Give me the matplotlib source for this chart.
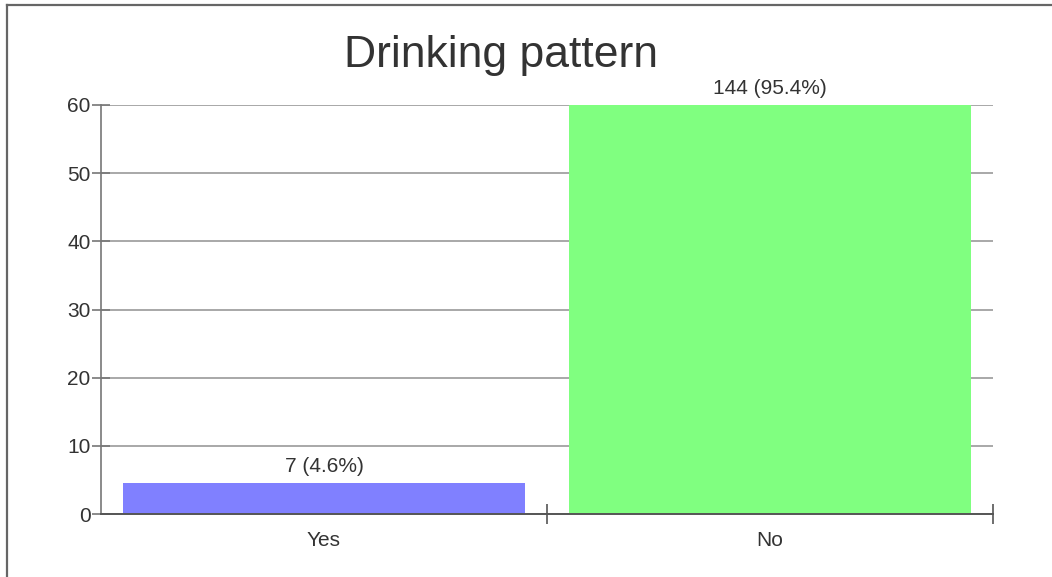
import matplotlib
matplotlib.use("Agg")
import matplotlib.pyplot as plt
from matplotlib.lines import Line2D

plt.rcParams['font.family'] = ['Liberation Sans', 'DejaVu Sans']

categories = ["Yes", "No"]
counts = [7, 144]
percents = [4.6, 95.4]
bar_colors = ["#8080ff", "#80ff80"]
y_ticks = [0, 10, 20, 30, 40, 50, 60]
y_max = 60

W, H = 1052, 577
fig = plt.figure(figsize=(W / 100, H / 100), dpi=100)

# plot area in pixel coordinates
left, right, top, bottom = 101, 993, 105, 514
ax = fig.add_axes([left / W, 1 - bottom / H, (right - left) / W, (bottom - top) / H])

ax.set_xlim(-0.5, len(categories) - 0.5)
ax.set_ylim(0, y_max)

x = list(range(len(categories)))
ax.bar(x, percents, width=0.9, color=bar_colors, zorder=3)

for xi, c, p in zip(x, counts, percents):
    ax.annotate(f"{c} ({p}%)", xy=(xi, min(p, y_max)), xytext=(0, 5),
                textcoords="offset points", ha="center", va="bottom",
                fontsize=15, color="#333333", annotation_clip=False)

# horizontal grid
ax.set_yticks(y_ticks)
for t in y_ticks:
    ax.axhline(t, color="#9a9a9a", lw=1.2, zorder=1)

ax.tick_params(axis="y", direction="inout", length=13, width=1.2,
               color="#777777", labelsize=15, labelcolor="#333333", pad=1)

# category labels without marks, boundary ticks between categories
ax.set_xticks(x)
ax.set_xticklabels(categories)
ax.tick_params(axis="x", which="major", length=0, labelsize=15,
               labelcolor="#333333", pad=12)
ax.set_xticks([0.5, 1.5], minor=True)
ax.tick_params(axis="x", which="minor", direction="inout", length=14.5,
               width=1.2, color="#555555")

for s in ("top", "right"):
    ax.spines[s].set_visible(False)
ax.spines["left"].set_color("#777777")
ax.spines["left"].set_linewidth(1.2)
ax.spines["bottom"].set_color("#555555")
ax.spines["bottom"].set_linewidth(1.4)
ax.spines["bottom"].set_zorder(4)

fig.text(501 / W, 1 - 55 / H, "Drinking pattern", ha="center", va="center",
         fontsize=32, color="#333333")

# outer frame
fig.add_artist(Line2D([7 / W, 1], [1 - 5 / H, 1 - 5 / H], color="#666666", lw=1.6,
                      transform=fig.transFigure))
fig.add_artist(Line2D([7 / W, 7 / W], [0, 1 - 5 / H], color="#666666", lw=1.6,
                      transform=fig.transFigure))

fig.savefig("out.png", dpi=100)
